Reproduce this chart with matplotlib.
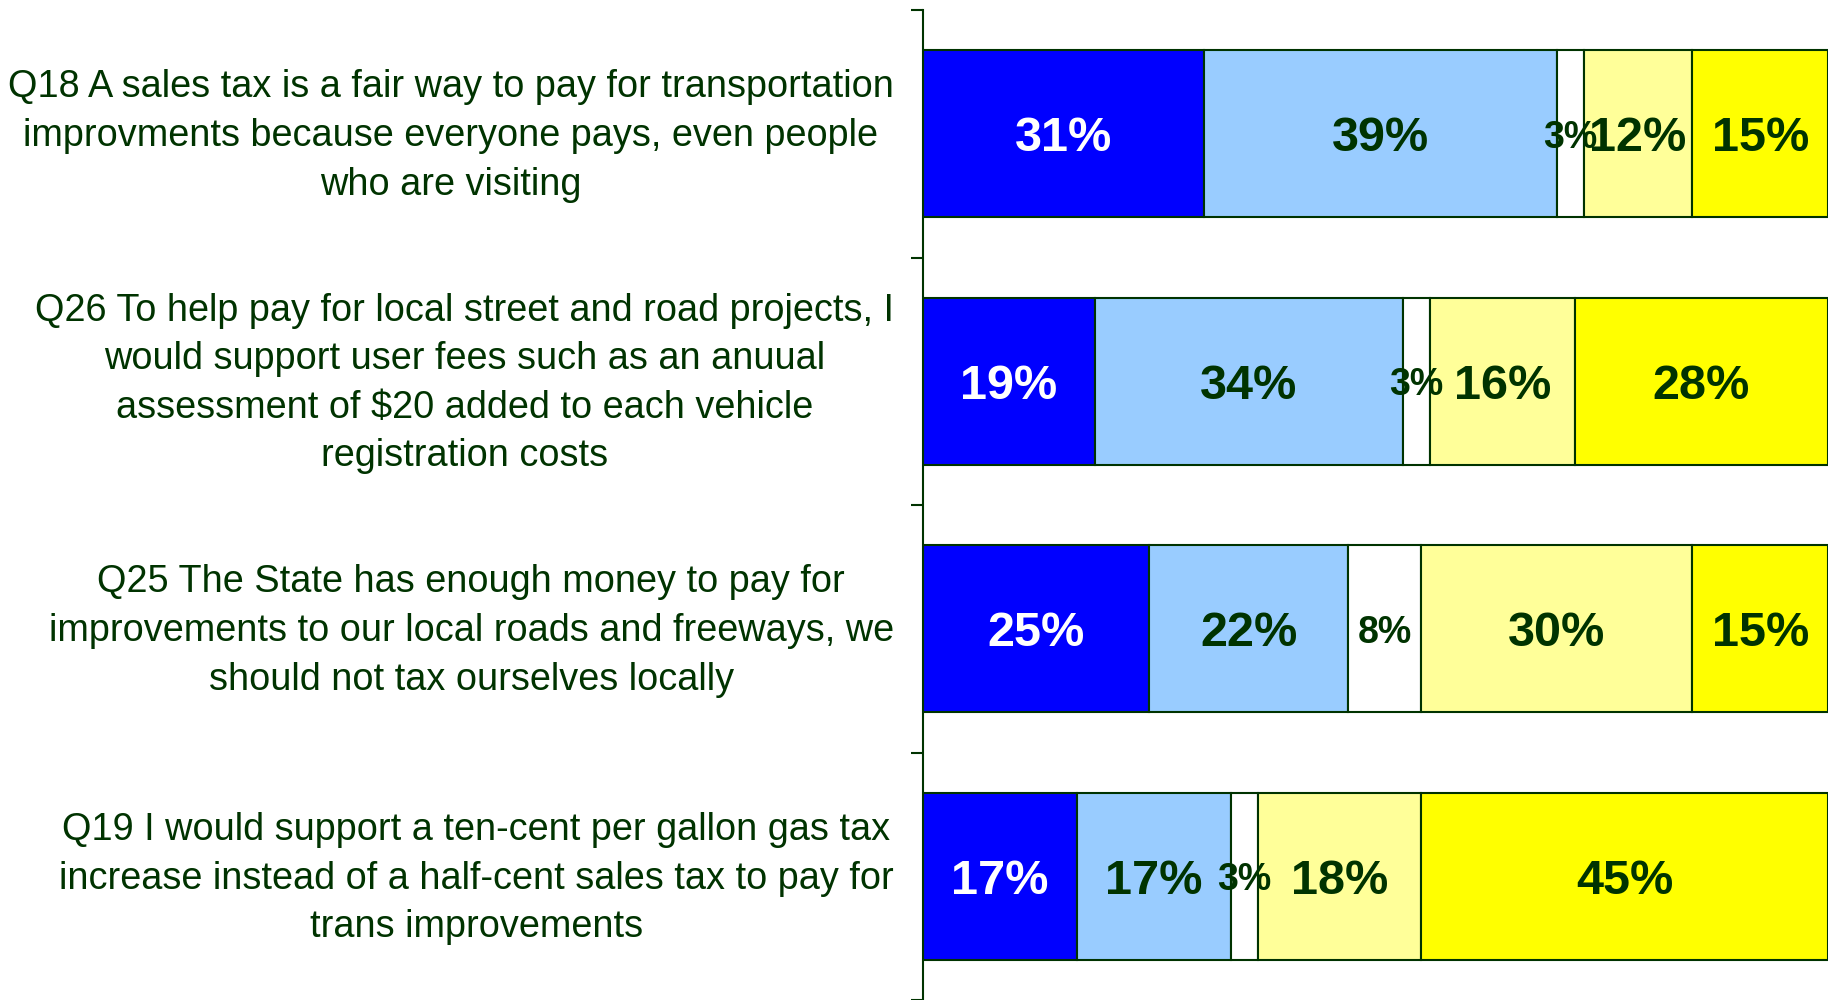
import matplotlib.pyplot as plt
import matplotlib.transforms as mtransforms
import numpy as np

plt.rcParams['font.family'] = ['Liberation Sans', 'DejaVu Sans']

QUESTIONS = [
    "Q18 A sales tax is a fair way to pay for transportation\n"
    "improvments because everyone pays, even people\n"
    "who are visiting",
    "Q26 To help pay for local street and road projects, I\n"
    "would support user fees such as an anuual\n"
    "assessment of $20 added to each vehicle\n"
    "registration costs",
    "Q25 The State has enough money to pay for\n"
    "improvements to our local roads and freeways, we\n"
    "should not tax ourselves locally",
    "Q19 I would support a ten-cent per gallon gas tax\n"
    "increase instead of a half-cent sales tax to pay for\n"
    "trans improvements",
]

STRONGLY_AGREE = [31, 19, 25, 17]
SOMEWHAT_AGREE = [39, 34, 22, 17]
DONT_KNOW = [3, 3, 8, 3]
SOMEWHAT_DISAGREE = [12, 16, 30, 18]
STRONGLY_DISAGREE = [15, 28, 15, 45]

COLORS = ['#0000FF', '#99CCFF', '#FFFFFF', '#FFFF99', '#FFFF00']
TEXT_COLORS = ['white', '#003300', '#003300', '#003300', '#003300']
DARK_GREEN = '#003300'


def main():
    """
    Stacked horizontal bars of survey answers, first question on top.
    """
    series = [STRONGLY_AGREE, SOMEWHAT_AGREE, DONT_KNOW,
              SOMEWHAT_DISAGREE, STRONGLY_DISAGREE]
    n = len(QUESTIONS)
    ypos = np.arange(n)[::-1]

    fig = plt.figure(figsize=(18.37, 10), dpi=100)
    ax = fig.add_axes([0.5025, 0.0, 0.4926, 0.990])

    left = np.zeros(n)
    for values, color, tcolor in zip(series, COLORS, TEXT_COLORS):
        values = np.array(values, dtype=float)
        ax.barh(ypos, values, left=left, height=0.675, color=color,
                edgecolor=DARK_GREEN, linewidth=1.5)
        for y, x0, v in zip(ypos, left, values):
            size = 27 if v < 10 else 35
            ax.text(x0 + v / 2, y, f"{v:.0f}%", ha='center',
                    va='center_baseline', fontsize=size, fontweight='bold',
                    color=tcolor)
        left += values

    ax.set_xlim(0, 100)
    ax.set_ylim(-0.5, n - 0.5)
    ax.set_xticks([])
    ax.set_yticks(ypos, QUESTIONS)
    ax.set_yticks(np.arange(n + 1) - 0.5, minor=True)
    ax.tick_params(axis='y', which='major', length=0, pad=21,
                   labelsize=27.3, labelcolor=DARK_GREEN)
    ax.tick_params(axis='y', which='minor', length=8.5, width=1.5,
                   color=DARK_GREEN, direction='out')
    # nudge the wrapped labels up a little, as in the original slide
    shift = mtransforms.ScaledTranslation(0, 8 / 100, fig.dpi_scale_trans)
    for label in ax.get_yticklabels():
        label.set_multialignment('center')
        label.set_linespacing(1.45)
        label.set_transform(label.get_transform() + shift)

    for side in ['top', 'right', 'bottom']:
        ax.spines[side].set_visible(False)
    ax.spines['left'].set_color(DARK_GREEN)
    ax.spines['left'].set_linewidth(1.5)

    plt.savefig("out.png", dpi=100)


if __name__ == "__main__":
    main()
